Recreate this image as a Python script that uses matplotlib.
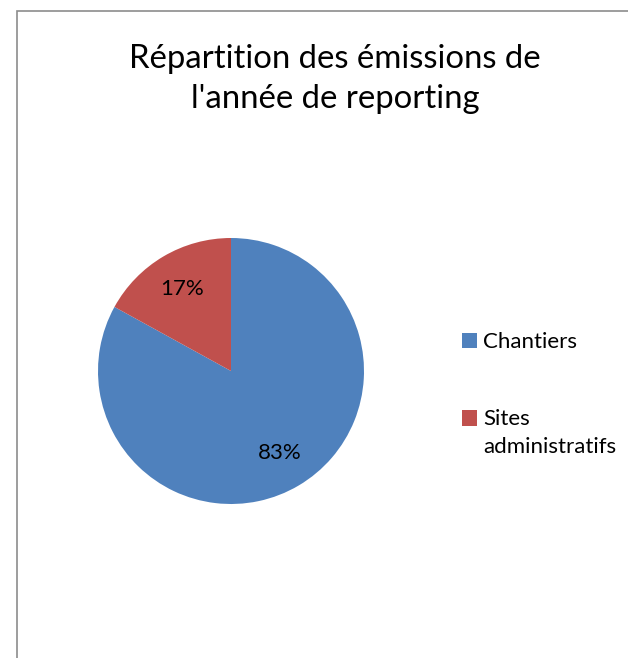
import matplotlib as mpl
mpl.use("Agg")
import matplotlib.pyplot as plt

plt.rcParams['font.family'] = ['Lato', 'DejaVu Sans']

# données
categories = ['Chantiers', 'Sites\nadministratifs']
parts = [83, 17]
couleurs = ['#4F81BD', '#C0504D']
titre = "Répartition des émissions de\nl'année de reporting"

fig = plt.figure(figsize=(6.28, 6.58), dpi=100)
fig.patch.set_facecolor('white')

# cadre du graphique (bord gauche et haut visibles)
cadre = plt.Rectangle((17 / 628, -0.05), 1.0, (658 - 11) / 658 + 0.05,
                      transform=fig.transFigure, fill=False,
                      edgecolor='#8c8c8c', linewidth=1.2)
fig.add_artist(cadre)

fig.text(335 / 628, 1 - 79 / 658, titre, ha='center', va='center',
         fontsize=23.7, linespacing=1.45)

cx, cy, r = 231, 371, 133
ax = fig.add_axes([(cx - r) / 628, (658 - cy - r) / 658, 2 * r / 628, 2 * r / 658])
wedges, textes, pcts = ax.pie(parts, colors=couleurs, startangle=90, counterclock=False,
                              autopct='%1.0f%%', pctdistance=0.72,
                              textprops={'fontsize': 16, 'color': 'black'})
ax.set_xlim(-1, 1)
ax.set_ylim(-1, 1)
ax.set_aspect('equal')

leg = fig.legend(wedges, categories, loc='upper left',
                 bbox_to_anchor=(462 / 628, 1 - 332 / 658), frameon=False,
                 fontsize=16, handlelength=0.68, handleheight=0.68,
                 handletextpad=0.27, labelspacing=2.57, borderaxespad=0,
                 borderpad=0)
for t in leg.get_texts():
    t.set_linespacing(1.5)
# le carré rouge aligné sur la première ligne
p = leg.get_patches()[1]
p.set_y(p.get_y() + 11)

fig.savefig('out.png', dpi=100)
